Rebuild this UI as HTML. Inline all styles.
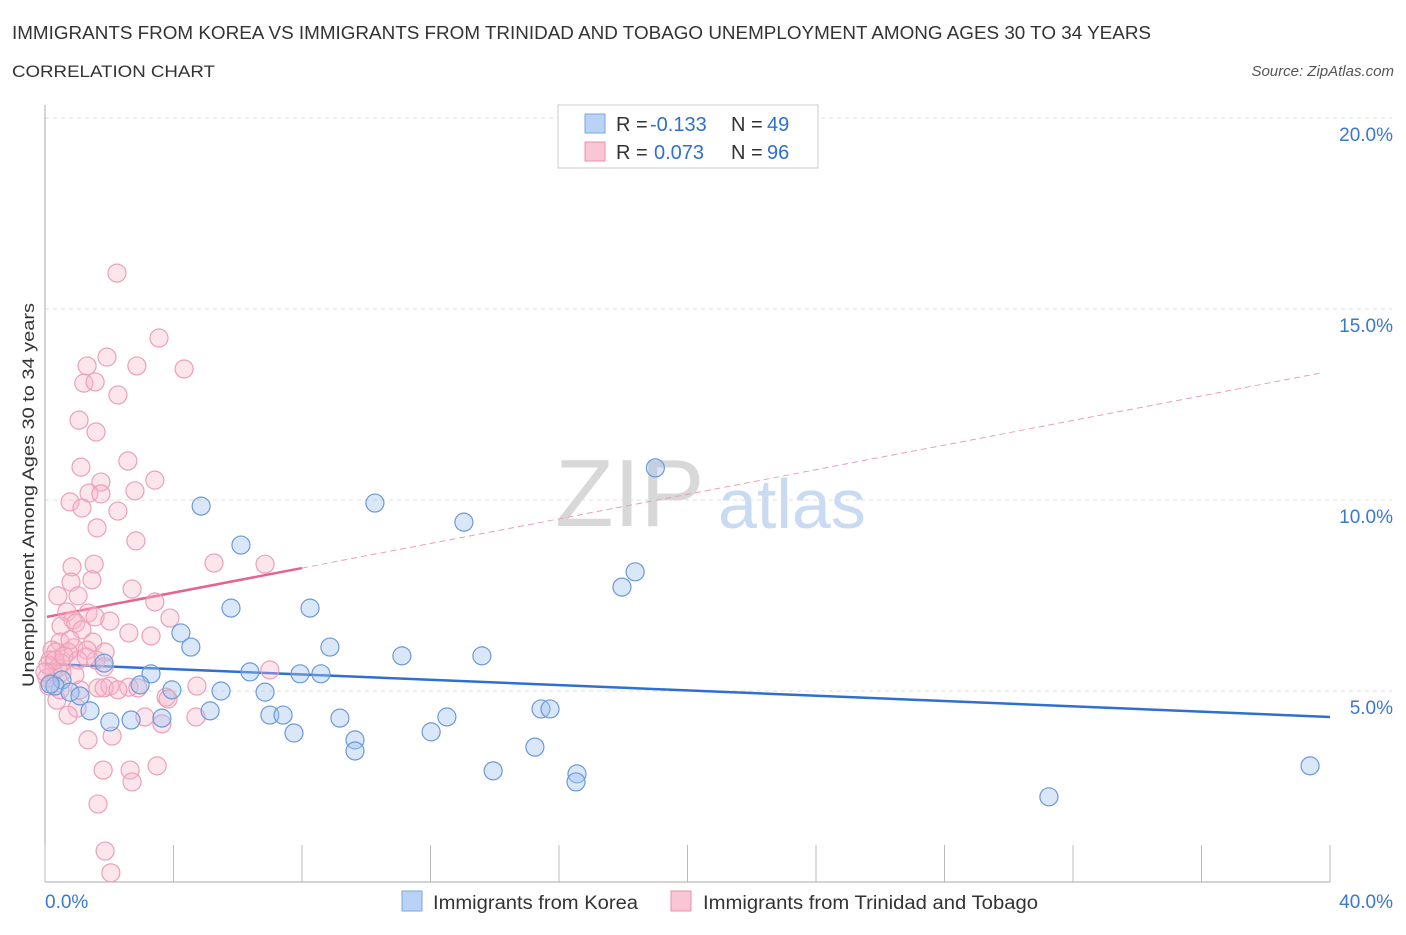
<!DOCTYPE html>
<html><head><meta charset="utf-8"><style>
body{margin:0;background:#fff;font-family:"Liberation Sans",sans-serif;}
svg text{font-family:"Liberation Sans",sans-serif;}
</style></head><body>
<svg id="chart" width="1406" height="930">
<text x="12" y="39" font-size="18" fill="#333" textLength="1139" lengthAdjust="spacingAndGlyphs">IMMIGRANTS FROM KOREA VS IMMIGRANTS FROM TRINIDAD AND TOBAGO UNEMPLOYMENT AMONG AGES 30 TO 34 YEARS</text>
<text x="12" y="77" font-size="17" fill="#333" textLength="203" lengthAdjust="spacingAndGlyphs">CORRELATION CHART</text>
<text x="1394" y="76" font-size="15" fill="#555" font-style="italic" text-anchor="end">Source: ZipAtlas.com</text>
<g>
<text x="555" y="526" font-size="96" fill="#d8d8d8" font-family="Liberation Serif">ZIP</text>
<text x="718" y="528" font-size="70" fill="#c8dbf2">atlas</text>
</g>
<g id="grid"></g><g id="axes"></g><g id="trend"></g><g id="pts"></g>
<g>
<rect x="558" y="105" width="260" height="63" fill="#fff" stroke="#ccc"/>
<rect x="585" y="114" width="20" height="19" fill="#b8d3f5" stroke="#7aa6e0"/>
<text x="616" y="131" font-size="20" fill="#333">R =</text>
<text x="650" y="131" font-size="20" fill="#2f6fd0">-0.133</text>
<text x="731" y="131" font-size="20" fill="#333">N =</text>
<text x="767" y="131" font-size="20" fill="#2f6fd0">49</text>
<rect x="585" y="142" width="20" height="19" fill="#f8c6d5" stroke="#e890aa"/>
<text x="616" y="159" font-size="20" fill="#333">R =</text>
<text x="654" y="159" font-size="20" fill="#2f6fd0">0.073</text>
<text x="731" y="159" font-size="20" fill="#333">N =</text>
<text x="767" y="159" font-size="20" fill="#2f6fd0">96</text>
</g>
<g>
<rect x="402" y="891" width="20" height="20" fill="#b8d3f5" stroke="#7aa6e0"/>
<text x="433" y="909" font-size="19" fill="#333" textLength="205" lengthAdjust="spacingAndGlyphs">Immigrants from Korea</text>
<rect x="671" y="891" width="20" height="20" fill="#f8c6d5" stroke="#e890aa"/>
<text x="703" y="909" font-size="19" fill="#333" textLength="335" lengthAdjust="spacingAndGlyphs">Immigrants from Trinidad and Tobago</text>
</g>
<text x="34" y="495" font-size="17" fill="#333" transform="rotate(-90 34 495)" text-anchor="middle" textLength="384" lengthAdjust="spacingAndGlyphs">Unemployment Among Ages 30 to 34 years</text>
</svg>
<script>
const yTicks=[5,10,15,20];
const yTickLabels=["5.0%","10.0%","15.0%","20.0%"];
const xTickLabels=["0.0%","40.0%"];
const koreaX=[19.0,10.27,13.04,4.86,6.10,18.37,17.96,5.79,8.25,4.23,4.54,8.87,11.11,13.60,6.38,7.94,8.59,3.30,1.84,0.53,0.31,0.16,2.96,3.95,5.48,6.85,0.78,1.09,1.40,5.14,2.02,2.68,3.64,7.00,7.41,9.18,12.51,15.44,15.72,7.75,12.02,9.65,9.65,15.25,13.95,16.56,16.53,31.25,39.38];
const koreaY=[10.84,9.92,9.42,9.84,8.82,8.12,7.72,7.17,7.17,6.52,6.15,6.15,5.92,5.92,5.50,5.45,5.45,5.45,5.73,5.29,5.13,5.18,5.16,5.03,5.00,4.97,4.97,4.87,4.48,4.48,4.19,4.24,4.29,4.37,4.37,4.29,4.32,4.53,4.53,3.90,3.93,3.72,3.43,3.53,2.91,2.83,2.62,2.23,3.04];
const triX=[2.24,3.55,1.93,2.86,4.33,1.31,1.21,1.56,2.27,1.06,1.59,1.12,2.58,1.74,3.42,0.78,1.37,1.74,2.80,1.15,2.27,1.62,2.83,5.26,6.85,1.53,0.84,1.46,0.81,2.71,0.40,1.03,3.42,0.68,1.34,3.89,1.56,2.02,0.87,0.50,0.96,1.15,2.61,3.30,1.49,0.47,0.90,1.31,0.72,0.22,0.34,1.87,0.16,0.50,1.03,1.59,1.84,0.40,7.00,0.25,0.53,0.06,1.65,2.02,2.61,1.84,2.89,4.73,0.12,1.09,3.77,0.37,3.83,1.00,0.72,3.11,4.70,3.64,2.09,1.34,1.81,2.65,3.49,2.71,1.65,1.87,2.05,0.09,0.31,0.59,1.28,0.93,2.27,0.00,0.47,0.78];
const triY=[15.94,14.24,13.74,13.51,13.43,13.51,13.06,13.09,12.75,12.09,11.78,10.86,11.02,10.47,10.52,9.95,10.18,10.16,10.24,9.79,9.71,9.27,8.93,8.35,8.32,8.32,8.25,7.91,7.85,7.67,7.49,7.49,7.33,7.07,7.04,6.91,6.94,6.83,6.86,6.70,6.78,6.60,6.52,6.44,6.28,6.28,6.13,6.07,6.02,6.07,6.02,6.02,5.81,5.73,5.81,5.81,5.63,5.60,5.55,5.50,5.50,5.34,5.08,5.13,5.10,5.08,5.08,5.13,5.13,5.03,4.84,4.76,4.79,4.55,4.37,4.32,4.32,4.14,3.82,3.72,2.93,2.93,3.04,2.62,2.04,0.81,0.24,5.68,5.81,5.92,5.89,5.42,5.03,5.50,5.03,6.34];
const koreaTrend=[5.71,4.32];
const triTrend=[6.93,0.161];
const NS="http://www.w3.org/2000/svg";
const X=v=>45+v*32.125, Y=v=>882-v*38.2;
function mk(t,a,p){const e=document.createElementNS(NS,t);for(const k in a)e.setAttribute(k,a[k]);document.getElementById(p).appendChild(e);return e;}
yTicks.forEach((t,i)=>{
 const g=mk('line',{x1:45,x2:1392,y1:Y(t),y2:Y(t),stroke:'#ddd','stroke-dasharray':'4,4'},'grid');
 
 
 const l=mk('text',{x:1393,y:Y(t)+23,'font-size':19,fill:'#3a78d0','text-anchor':'end'},'grid');
 l.textContent=yTickLabels[i];
 
 
});
const ax=mk('line',{x1:45,x2:45,y1:105,y2:882,stroke:'#aaa'},'axes');


const bx=mk('line',{x1:45,x2:1330,y1:882,y2:882,stroke:'#aaa'},'axes');


for(let i=0;i<=10;i++){
 const t=mk('line',{x1:X(i*4),x2:X(i*4),y1:845,y2:882,stroke:'#bbb'},'axes');
 
 
}
[[0,'start',45],[40,'end',1393]].forEach((d,i)=>{
 const l=mk('text',{x:d[2],y:908,'font-size':19,fill:'#3a78d0','text-anchor':d[1]},'axes');
 l.textContent=xTickLabels[i];
 
 
});
const kt=mk('line',{x1:X(0),x2:X(40),y1:Y(koreaTrend[0]),y2:Y(koreaTrend[1]),stroke:'#2f6fd0','stroke-width':2.5},'trend');


const tf=x=>triTrend[0]+triTrend[1]*x;
const ts=mk('line',{x1:X(0.06),x2:X(8),y1:Y(tf(0.06)),y2:Y(tf(8)),stroke:'#e8628e','stroke-width':2.5},'trend');


const td=mk('line',{x1:X(8),x2:X(39.8),y1:Y(tf(8)),y2:Y(tf(39.8)),stroke:'#e8a0b8','stroke-width':1,'stroke-dasharray':'6,4'},'trend');


triX.forEach((x,i)=>{
 const c=mk('circle',{cx:X(x),cy:Y(triY[i]),r:9,fill:'rgba(248,180,200,0.35)',stroke:'#eba0b8','stroke-width':1.2},'pts');
 
 
});
koreaX.forEach((x,i)=>{
 const c=mk('circle',{cx:X(x),cy:Y(koreaY[i]),r:9,fill:'rgba(160,196,240,0.4)',stroke:'#6a9ad8','stroke-width':1.2},'pts');
 
 
});
</script>
</body></html>
